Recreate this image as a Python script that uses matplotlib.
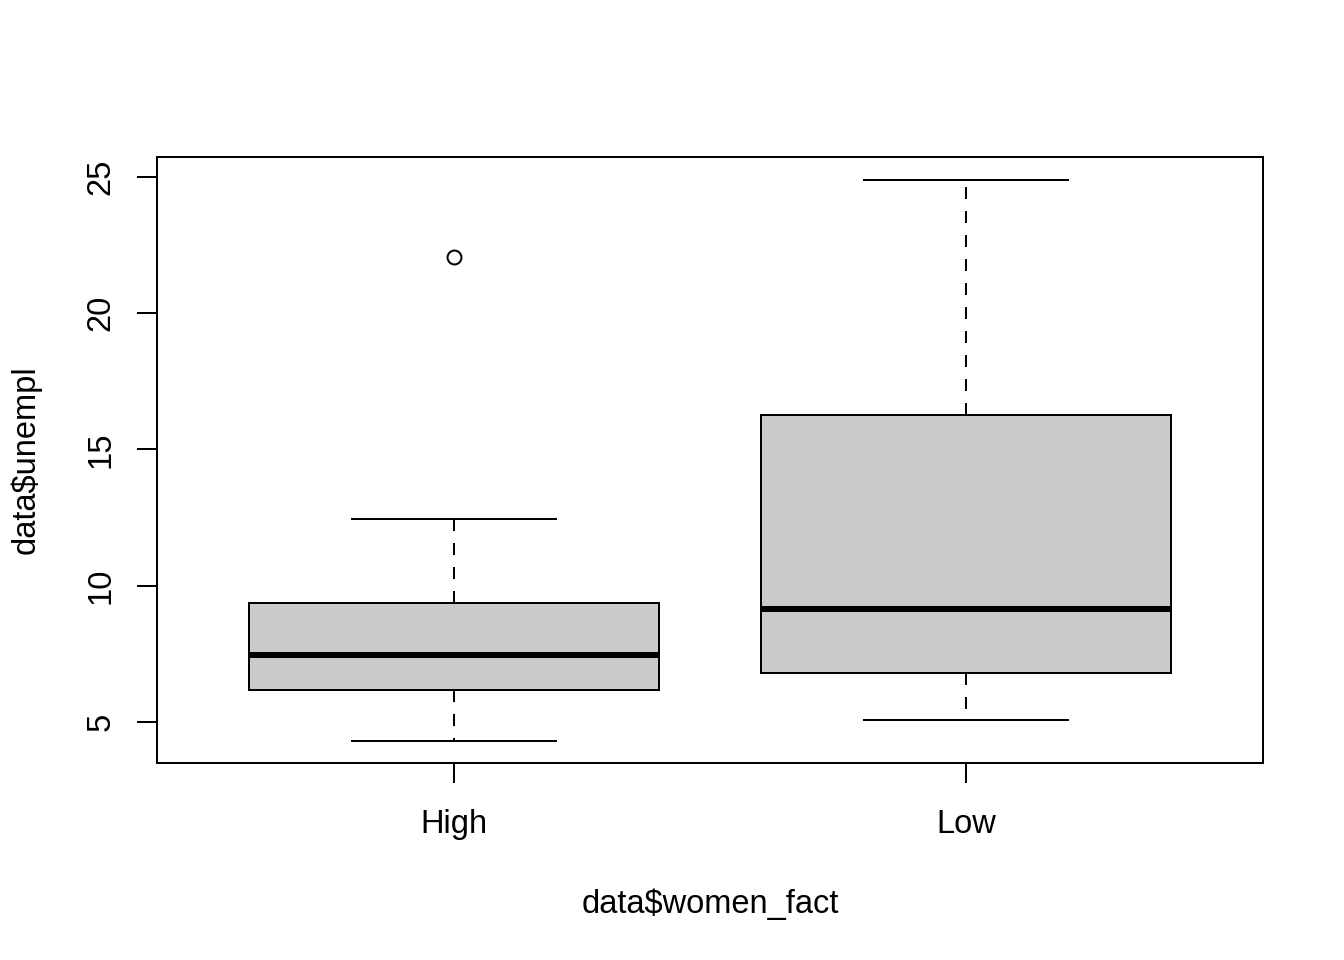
import matplotlib
matplotlib.use("Agg")
import matplotlib.pyplot as plt
import numpy as np

categories = ["High", "Low"]
whisker_low = [4.30, 5.07]
q1 = [6.17, 6.80]
median = [7.46, 9.15]
q3 = [9.37, 16.27]
whisker_high = [12.45, 24.89]
outliers = [[22.06], []]

plt.rcParams['font.family'] = ['Liberation Sans', 'DejaVu Sans']

fig = plt.figure(figsize=(13.44, 9.6), dpi=100)
ax = fig.add_axes([157/1344, 1-763/960, (1263-157)/1344, (763-157)/960])

stats = []
for i, c in enumerate(categories):
    stats.append(dict(label=c, whislo=whisker_low[i], q1=q1[i], med=median[i],
                      q3=q3[i], whishi=whisker_high[i], fliers=outliers[i]))

lw = 1.44
ax.bxp(stats, positions=[1, 2], widths=0.8, patch_artist=True,
       boxprops=dict(facecolor='#CACACA', edgecolor='black', linewidth=lw),
       medianprops=dict(color='black', linewidth=4.3, solid_capstyle='butt'),
       whiskerprops=dict(color='black', linewidth=lw, linestyle=(0, (6.0, 6.0))),
       capprops=dict(color='black', linewidth=lw),
       capwidths=0.4,
       flierprops=dict(marker='o', markerfacecolor='none', markeredgecolor='black',
                       markersize=10, markeredgewidth=lw))

ax.set_xlim(0.42, 2.58)
ax.set_ylim(3.495, 25.73)
ax.set_yticks([5, 10, 15, 20, 25])
ax.set_xticks([1, 2])
ax.set_xticklabels(categories)
for s in ax.spines.values():
    s.set_linewidth(lw)
ax.tick_params(direction='out', length=14.4, width=lw, labelsize=23.5)
ax.tick_params(axis='x', pad=19)
ax.tick_params(axis='y', pad=15)
for t in ax.get_yticklabels():
    t.set_rotation(90)
    t.set_va('center')
ax.set_xlabel("data$women_fact", fontsize=23.5, labelpad=35)
ax.set_ylabel("data$unempl", fontsize=23.5, labelpad=31)

fig.savefig("out.png", dpi=100)
